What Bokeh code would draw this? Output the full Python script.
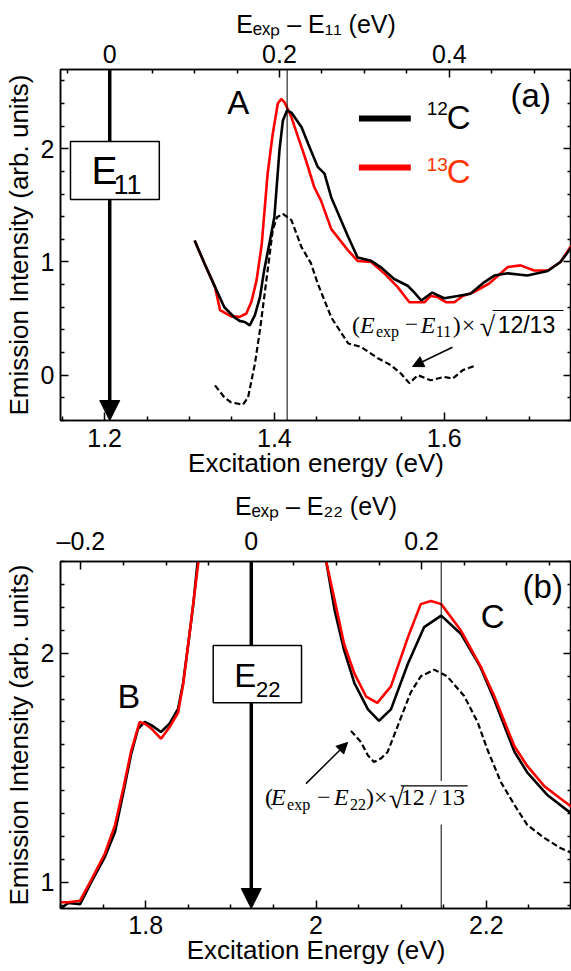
import numpy as np
from bokeh.plotting import figure
from bokeh.layouts import column
from bokeh.models import (Range1d, LinearAxis, FixedTicker, CustomJSTickFormatter,
                          Label, Arrow, NormalHead, BoxAnnotation, Span)
from bokeh.embed import file_html
from bokeh.resources import INLINE

nan = float("nan")

# ---------------- data: panel (a) ----------------
E11 = 1.206
PEAK_A = 1.415
a12_x = [1.306, 1.318, 1.330, 1.341, 1.353, 1.359, 1.365, 1.371, 1.377, 1.383, 1.388, 1.394,
         1.400, 1.406, 1.410, 1.415, 1.420, 1.432, 1.440, 1.451, 1.459, 1.467, 1.479, 1.487,
         1.498, 1.514, 1.526, 1.541, 1.557, 1.565, 1.573, 1.586, 1.600, 1.616, 1.631, 1.647,
         1.659, 1.675, 1.698, 1.722, 1.737, 1.750]
a12_y = [1.19, 0.98, 0.78, 0.60, 0.51, 0.48, 0.47, 0.44, 0.53, 0.69, 0.93, 1.16,
         1.40, 1.99, 2.25, 2.34, 2.32, 2.19, 2.04, 1.84, 1.78, 1.57, 1.36, 1.22,
         1.04, 1.01, 0.95, 0.85, 0.79, 0.73, 0.66, 0.73, 0.68, 0.70, 0.72, 0.82,
         0.88, 0.90, 0.88, 0.92, 1.00, 1.13]
a13_x = [1.306, 1.318, 1.330, 1.336, 1.349, 1.359, 1.367, 1.373, 1.379, 1.385, 1.392, 1.398,
         1.404, 1.408, 1.412, 1.420, 1.428, 1.436, 1.447, 1.455, 1.467, 1.487, 1.498, 1.514,
         1.530, 1.545, 1.559, 1.577, 1.584, 1.592, 1.602, 1.612, 1.622, 1.635, 1.653, 1.675,
         1.690, 1.706, 1.722, 1.737, 1.750]
a13_y = [1.19, 0.98, 0.78, 0.575, 0.52, 0.515, 0.545, 0.65, 0.84, 1.15, 1.78, 2.13,
         2.40, 2.44, 2.41, 2.28, 2.10, 1.925, 1.66, 1.54, 1.29, 1.10, 1.01, 1.00,
         0.895, 0.78, 0.645, 0.645, 0.70, 0.69, 0.645, 0.645, 0.70, 0.735, 0.81, 0.955,
         0.97, 0.925, 0.925, 1.00, 1.145]
ad_x = [1.330, 1.341, 1.349, 1.363, 1.369, 1.377, 1.383, 1.388, 1.394, 1.398, 1.403, 1.410,
        1.420, 1.432, 1.443, 1.451, 1.467, 1.487, 1.502, 1.522, 1.537, 1.549, 1.559, 1.569,
        1.584, 1.600, 1.610, 1.622, 1.635]
ad_y = [-0.09, -0.195, -0.24, -0.26, -0.195, 0.10, 0.40, 0.69, 1.04, 1.28, 1.395, 1.425,
        1.37, 1.13, 0.99, 0.81, 0.51, 0.28, 0.25, 0.15, 0.09, 0.015, -0.07, 0.0,
        -0.045, -0.015, -0.03, 0.045, 0.08]

# ---------------- data: panel (b) ----------------
E22 = 1.924
PEAK_C = 2.147
b12_x = [1.700, 1.709, 1.723, 1.736, 1.752, 1.764, 1.774, 1.783, 1.791, 1.799, 1.807, 1.818,
         1.828, 1.838, 1.844, 1.850, 1.856, 1.861, nan, 2.012, 2.022, 2.033, 2.045, 2.061,
         2.074, 2.088, 2.108, 2.127, 2.147, 2.170, 2.193, 2.209, 2.233, 2.248, 2.272, 2.300]
b12_y = [0.885, 0.91, 0.905, 1.00, 1.11, 1.22, 1.395, 1.56, 1.67, 1.70, 1.685, 1.656,
         1.692, 1.757, 1.87, 2.04, 2.215, 2.40, nan, 2.40, 2.185, 2.013, 1.87, 1.755,
         1.705, 1.755, 1.955, 2.114, 2.164, 2.085, 1.94, 1.80, 1.57, 1.48, 1.38, 1.30]
b13_x = [1.700, 1.709, 1.723, 1.736, 1.752, 1.764, 1.774, 1.783, 1.793, 1.800, 1.807, 1.818,
         1.828, 1.838, 1.844, 1.850, 1.856, 1.862, nan, 2.012, 2.022, 2.033, 2.045, 2.059,
         2.072, 2.088, 2.108, 2.123, 2.135, 2.147, 2.170, 2.193, 2.209, 2.225, 2.233, 2.248,
         2.268, 2.287, 2.300]
b13_y = [0.913, 0.913, 0.92, 1.01, 1.125, 1.25, 1.415, 1.574, 1.70, 1.69, 1.67, 1.627,
         1.677, 1.74, 1.864, 2.04, 2.22, 2.40, nan, 2.40, 2.23, 2.04, 1.912, 1.81,
         1.783, 1.855, 2.07, 2.214, 2.228, 2.214, 2.10, 1.945, 1.815, 1.667, 1.594, 1.508,
         1.42, 1.366, 1.33]
bd_x = [2.041, 2.053, 2.061, 2.068, 2.076, 2.084, 2.096, 2.111, 2.123, 2.139, 2.154, 2.174,
        2.190, 2.201, 2.217, 2.233, 2.248, 2.268, 2.287, 2.300]
bd_y = [1.661, 1.611, 1.554, 1.525, 1.54, 1.568, 1.683, 1.827, 1.899, 1.928, 1.899, 1.813,
        1.697, 1.582, 1.438, 1.338, 1.251, 1.194, 1.15, 1.129]

# ---------------- ticks & titles ----------------
A_XTICKS = [1.2, 1.4, 1.6]
A_XMINOR = [1.15, 1.25, 1.30, 1.35, 1.45, 1.50, 1.55, 1.65, 1.70, 1.75]
A_TTICKS = [0.0, 0.2, 0.4]
A_TMINOR = [-0.05, 0.05, 0.10, 0.15, 0.25, 0.30, 0.35, 0.45, 0.50]
A_YTICKS = [0, 1, 2]
A_YMINOR = [-0.4, -0.2, 0.2, 0.4, 0.6, 0.8, 1.2, 1.4, 1.6, 1.8, 2.2, 2.4, 2.6]
B_XTICKS = [1.8, 2.0, 2.2]
B_XMINOR = [1.70, 1.75, 1.85, 1.90, 1.95, 2.05, 2.10, 2.15, 2.25, 2.30]
B_TTICKS = [-0.2, 0.0, 0.2]
B_TMINOR = [-0.25, -0.15, -0.10, -0.05, 0.05, 0.10, 0.15, 0.25, 0.30, 0.35]
B_YTICKS = [1, 2]
B_YMINOR = [0.9, 1.1, 1.2, 1.3, 1.4, 1.5, 1.6, 1.7, 1.8, 1.9, 2.1, 2.2, 2.3, 2.4]

Y_TITLE = "Emission Intensity (arb. units)"
A_XTITLE = "Excitation energy (eV)"
B_XTITLE = "Excitation Energy (eV)"
A_TTITLE = "E\u2091\u2093\u209a \u2013 E\u2081\u2081 (eV)"
B_TTITLE = "E\u2091\u2093\u209a \u2013 E\u2082\u2082 (eV)"

XR_A, YR_A = (1.148, 1.750), (-0.40, 2.70)
XR_B, YR_B = (1.700, 2.300), (0.886, 2.400)

FMT = "const v = Math.round(tick*100)/100; return String(v).replace('-', '\u2013');"
SANS = "Liberation Sans"
SERIF = "Liberation Serif"
K = 0.39   # label baseline correction (fraction of font size)

W = 571
FRAME_H = 351
TOP1, BOT1 = 69, 68
H1 = TOP1 + FRAME_H + BOT1
TOP2 = 557 - H1
BOT2 = 62
H2 = TOP2 + FRAME_H + BOT2


def style(ax, ticks, minor, labels=True, standoff=6):
    ax.ticker = FixedTicker(ticks=ticks, minor_ticks=minor)
    ax.formatter = CustomJSTickFormatter(code=FMT if labels else "return '';")
    ax.axis_line_width = 1.5
    ax.axis_line_color = "black"
    ax.major_tick_in = 8
    ax.major_tick_out = 0
    ax.minor_tick_in = 4
    ax.minor_tick_out = 0
    ax.major_tick_line_width = 1.5
    ax.minor_tick_line_width = 1.5
    ax.major_tick_line_color = "black"
    ax.minor_tick_line_color = "black"
    ax.major_label_text_font = SANS
    ax.major_label_text_color = "black"
    ax.major_label_text_font_size = "25px"
    ax.major_label_standoff = standoff if labels else 0
    ax.axis_label_text_font = SANS
    ax.axis_label_text_font_style = "normal"
    ax.axis_label_text_color = "black"


def make_fig(xr, yr, h, top, bot, e0, xt, xm, tt, tm, yt, ym, xtitle, ttitle, bstand):
    p = figure(width=W, height=h, x_range=Range1d(*xr), y_range=Range1d(*yr),
               output_backend="svg", toolbar_location=None, title=None,
               min_border_left=59, min_border_right=0, min_border_top=top,
               min_border_bottom=bot)
    p.xgrid.visible = False
    p.ygrid.visible = False
    p.outline_line_color = "black"
    p.outline_line_width = 1.5
    bx = p.below[0]
    style(bx, xt, xm, standoff=bstand)
    bx.axis_label = xtitle
    bx.axis_label_text_font_size = "26px"
    bx.axis_label_standoff = -2
    ly = p.left[0]
    style(ly, yt, ym)
    ly.axis_label = Y_TITLE
    ly.axis_label_text_font_size = "26px"
    ly.axis_label_standoff = 4
    p.extra_x_ranges = {"top": Range1d(xr[0] - e0, xr[1] - e0)}
    ta = LinearAxis(x_range_name="top")
    style(ta, tt, tm, standoff=7)
    ta.axis_label = ttitle
    ta.axis_label_text_font_size = "25px"
    ta.axis_label_standoff = 4
    p.add_layout(ta, "above")
    ra = LinearAxis()
    style(ra, yt, ym, labels=False)
    p.add_layout(ra, "right")
    return p


def mapper(xr, yr, top):
    def X(px):
        return xr[0] + (px - 59) * (xr[1] - xr[0]) / 512.0

    def Y(py):
        return yr[1] - (py - top) * (yr[1] - yr[0]) / 351.0
    return X, Y


def lab(p, X, Y, px, py, text, size, font=SANS, style_="normal", color="black", align="left"):
    p.add_layout(Label(x=X(px), y=Y(py - K * size), text=text, text_font=font,
                       text_font_size=f"{size}px", text_font_style=style_, text_color=color,
                       text_baseline="alphabetic", text_align=align))


def seg(p, x0, y0, x1, y1, w, color="black", head=None):
    p.add_layout(Arrow(end=head, start=None, x_start=x0, y_start=y0, x_end=x1, y_end=y1,
                       line_width=w, line_color=color))


def formula(p, X, Y, xs, base, sub, frac, frac_font, frac_size, over):
    lab(p, X, Y, xs[0], base, "(", 24, SERIF)
    lab(p, X, Y, xs[1], base, "E", 24, SERIF, "italic")
    lab(p, X, Y, xs[2], base + 4, "exp", 16, SERIF)
    lab(p, X, Y, xs[3], base, "\u2212", 24, SERIF)
    lab(p, X, Y, xs[4], base, "E", 24, SERIF, "italic")
    lab(p, X, Y, xs[5], base + 4, sub, 16, SERIF)
    lab(p, X, Y, xs[6], base, ")", 24, SERIF)
    lab(p, X, Y, xs[7], base, "\u00d7", 24, SERIF)
    lab(p, X, Y, xs[8], base + 3, "\u221a", 28, SERIF)
    lab(p, X, Y, xs[9], base, frac, frac_size, frac_font)
    seg(p, X(over[0]), Y(over[2]), X(over[1]), Y(over[2]), 1.2)


HEAD_BIG = dict(size=20, fill_color="black", line_color="black", line_width=1)
HEAD_SMALL = dict(size=11, fill_color="black", line_color="black", line_width=1)

# ================= panel (a) =================
p1 = make_fig(XR_A, YR_A, H1, TOP1, BOT1, E11, A_XTICKS, A_XMINOR, A_TTICKS, A_TMINOR,
              A_YTICKS, A_YMINOR, A_XTITLE, A_TTITLE, 8)
XA, YA = mapper(XR_A, YR_A, 69)
p1.add_layout(Span(location=PEAK_A, dimension="height", line_color="black", line_width=1))
p1.line(ad_x, ad_y, line_color="black", line_width=2.2, line_dash="6 3")
p1.line(a13_x, a13_y, line_color="#ff0000", line_width=2.6)
p1.line(a12_x, a12_y, line_color="black", line_width=2.6)

p1.add_layout(Arrow(end=NormalHead(**HEAD_BIG), x_start=E11, y_start=YR_A[1],
                    x_end=E11, y_end=YR_A[0], line_width=3.5, line_color="black"))
p1.add_layout(BoxAnnotation(left=XA(69), right=XA(158), top=YA(141), bottom=YA(199),
                            fill_color="white", fill_alpha=1.0, line_color="black",
                            line_width=1.5, line_alpha=1.0))
lab(p1, XA, YA, 90, 185, "E", 39)
lab(p1, XA, YA, 112, 195, "11", 27)
lab(p1, XA, YA, 226, 115, "A", 33)
lab(p1, XA, YA, 510, 108, "(a)", 33)
seg(p1, XA(358), YA(118), XA(410), YA(118), 6)
seg(p1, XA(358), YA(167), XA(410), YA(167), 6, "#ff0000")
lab(p1, XA, YA, 426, 115, "12", 19)
lab(p1, XA, YA, 446, 130, "C", 33)
lab(p1, XA, YA, 426, 171.5, "13", 19, color="#ff3300")
lab(p1, XA, YA, 446, 183.5, "C", 33, color="#ff3300")
formula(p1, XA, YA, [351, 359, 375, 404, 420, 435, 452, 461, 479, 497], 333.5, "11",
        "12/13", SANS, 23, (492, 563, 310))
seg(p1, XA(451.7), YA(346.7), XA(411.7), YA(366), 1.5, head=NormalHead(**HEAD_SMALL))

# ================= panel (b) =================
p2 = make_fig(XR_B, YR_B, H2, TOP2, BOT2, E22, B_XTICKS, B_XMINOR, B_TTICKS, B_TMINOR,
              B_YTICKS, B_YMINOR, B_XTITLE, B_TTITLE, 7)
XB, YB = mapper(XR_B, YR_B, 557)
p2.add_layout(Span(location=PEAK_C, dimension="height", line_color="black", line_width=1))
p2.line(bd_x, bd_y, line_color="black", line_width=2.2, line_dash="6 3")
p2.line(b12_x, b12_y, line_color="black", line_width=2.6)
p2.line(b13_x, b13_y, line_color="#ff0000", line_width=2.6)

p2.add_layout(Arrow(end=NormalHead(**HEAD_BIG), x_start=E22, y_start=YR_B[1],
                    x_end=E22, y_end=YR_B[0], line_width=3.5, line_color="black"))
p2.add_layout(BoxAnnotation(left=XB(212), right=XB(300.5), top=YB(642), bottom=YB(700),
                            fill_color="white", fill_alpha=1.0, line_color="black",
                            line_width=1.5, line_alpha=1.0))
lab(p2, XB, YB, 233, 685, "E", 33)
lab(p2, XB, YB, 255, 695, "22", 22)
lab(p2, XB, YB, 116, 706.5, "B", 34)
lab(p2, XB, YB, 480, 625, "C", 33)
lab(p2, XB, YB, 522, 595, "(b)", 33)
p2.add_layout(BoxAnnotation(left=XB(263), right=XB(470), top=YB(779), bottom=YB(823),
                            fill_color="white", fill_alpha=1.0, line_alpha=0.0))
formula(p2, XB, YB, [264, 270, 286, 316, 333, 349, 365, 373, 388, 400], 805, "22",
        "12\u2009/\u200913", SERIF, 24, (400, 467, 784))
seg(p2, XB(305), YB(781.7), XB(346.7), YB(740), 1.5, head=NormalHead(**HEAD_SMALL))

layout = column(p1, p2)
open("out.html", "w").write(file_html(layout, INLINE))
